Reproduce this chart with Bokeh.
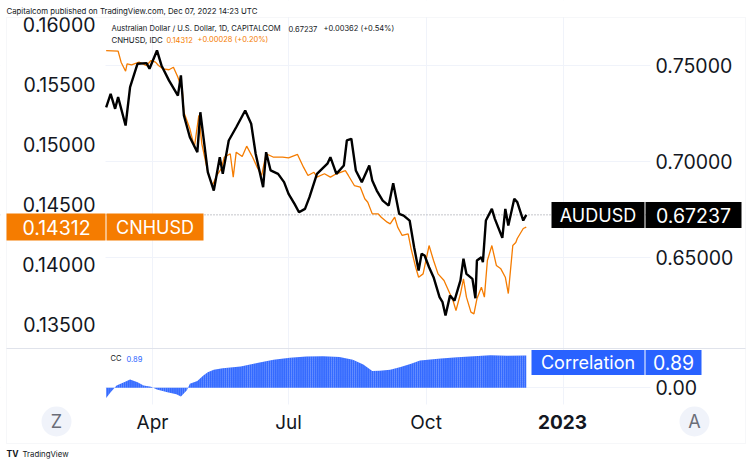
import pandas as pd
from bokeh.plotting import figure
from bokeh.models import (Range1d, LinearAxis, FixedTicker, PrintfTickFormatter,
                          Span, Label, BoxAnnotation)
from bokeh.embed import file_html
from bokeh.resources import INLINE

# ---------------- data ----------------
aud_dates = ["2022-03-01", "2022-03-04", "2022-03-07", "2022-03-09", "2022-03-14", "2022-03-17",
             "2022-03-22", "2022-03-28", "2022-03-30", "2022-04-04", "2022-04-07", "2022-04-12",
             "2022-04-18", "2022-04-20", "2022-04-22", "2022-04-26", "2022-05-01", "2022-05-03",
             "2022-05-08", "2022-05-12", "2022-05-16", "2022-05-18", "2022-05-22", "2022-05-27",
             "2022-06-02", "2022-06-06", "2022-06-09", "2022-06-14", "2022-06-16", "2022-06-19",
             "2022-06-24", "2022-06-28", "2022-07-01", "2022-07-05", "2022-07-08", "2022-07-12",
             "2022-07-15", "2022-07-20", "2022-07-27", "2022-07-29", "2022-08-02", "2022-08-07",
             "2022-08-09", "2022-08-12", "2022-08-15", "2022-08-19", "2022-08-24", "2022-08-26",
             "2022-08-29", "2022-09-02", "2022-09-06", "2022-09-09", "2022-09-13", "2022-09-16",
             "2022-09-20", "2022-09-23", "2022-09-26", "2022-09-28", "2022-09-30", "2022-10-03",
             "2022-10-06", "2022-10-10", "2022-10-12", "2022-10-14", "2022-10-17", "2022-10-20",
             "2022-10-24", "2022-10-26", "2022-10-28", "2022-11-01", "2022-11-03", "2022-11-04",
             "2022-11-07", "2022-11-08", "2022-11-10", "2022-11-14", "2022-11-16", "2022-11-21",
             "2022-11-23", "2022-11-25", "2022-11-29", "2022-12-01", "2022-12-05", "2022-12-07"]
aud_values = [0.7284, 0.7354, 0.7276, 0.7337, 0.7189, 0.7389,
              0.7511, 0.7514, 0.7485, 0.7580, 0.7502, 0.7424,
              0.7345, 0.7450, 0.7241, 0.7128, 0.7050, 0.7258,
              0.6946, 0.6850, 0.7024, 0.6937, 0.7111, 0.7180,
              0.7267, 0.7198, 0.7042, 0.6868, 0.7050, 0.6955,
              0.6937, 0.6894, 0.6833, 0.6781, 0.6737, 0.6755,
              0.6816, 0.6937, 0.6990, 0.7024, 0.6937, 0.6981,
              0.7111, 0.7120, 0.6955, 0.6894, 0.6981, 0.6903,
              0.6850, 0.6798, 0.6772, 0.6889, 0.6729, 0.6720,
              0.6694, 0.6555, 0.6434, 0.6521, 0.6512, 0.6451,
              0.6399, 0.6295, 0.6269, 0.6199, 0.6303, 0.6277,
              0.6382, 0.6495, 0.6416, 0.6390, 0.6289, 0.6486,
              0.6503, 0.6477, 0.6694, 0.6755, 0.6703, 0.6604,
              0.6755, 0.6668, 0.6807, 0.6790, 0.6694, 0.67237]

cnh_dates = ["2022-03-01", "2022-03-09", "2022-03-11", "2022-03-14", "2022-03-15", "2022-03-18",
             "2022-03-23", "2022-03-28", "2022-03-31", "2022-04-03", "2022-04-05", "2022-04-08",
             "2022-04-12", "2022-04-15", "2022-04-18", "2022-04-21", "2022-04-22", "2022-04-26",
             "2022-04-29", "2022-05-02", "2022-05-04", "2022-05-08", "2022-05-11", "2022-05-14",
             "2022-05-17", "2022-05-19", "2022-05-23", "2022-05-25", "2022-05-27", "2022-05-31",
             "2022-06-03", "2022-06-07", "2022-06-10", "2022-06-13", "2022-06-16", "2022-06-21",
             "2022-06-27", "2022-07-01", "2022-07-07", "2022-07-11", "2022-07-14", "2022-07-18",
             "2022-07-20", "2022-07-25", "2022-07-29", "2022-08-02", "2022-08-08", "2022-08-10",
             "2022-08-14", "2022-08-18", "2022-08-21", "2022-08-23", "2022-08-26", "2022-08-30",
             "2022-09-01", "2022-09-05", "2022-09-07", "2022-09-10", "2022-09-12", "2022-09-15",
             "2022-09-19", "2022-09-21", "2022-09-24", "2022-09-26", "2022-09-29", "2022-10-03",
             "2022-10-06", "2022-10-09", "2022-10-13", "2022-10-15", "2022-10-19", "2022-10-21",
             "2022-10-24", "2022-10-26", "2022-10-28", "2022-10-31", "2022-11-02", "2022-11-04",
             "2022-11-07", "2022-11-09", "2022-11-11", "2022-11-14", "2022-11-17", "2022-11-20",
             "2022-11-23", "2022-11-25", "2022-11-28", "2022-11-30", "2022-12-01", "2022-12-05",
             "2022-12-07"]
cnh_values = [0.15783, 0.15778, 0.15686, 0.15611, 0.15672, 0.15664,
              0.15686, 0.15658, 0.15700, 0.15686, 0.15658, 0.15631,
              0.15623, 0.15644, 0.15561, 0.15450, 0.15269, 0.15131,
              0.14978, 0.15242, 0.15006, 0.14769, 0.14658, 0.14742,
              0.14798, 0.14894, 0.14923, 0.14728, 0.14936, 0.14900,
              0.14986, 0.14894, 0.14811, 0.14742, 0.14923, 0.14894,
              0.14894, 0.14889, 0.14917, 0.14811, 0.14742, 0.14769,
              0.14728, 0.14756, 0.14728, 0.14756, 0.14783, 0.14742,
              0.14658, 0.14644, 0.14548, 0.14519, 0.14422, 0.14422,
              0.14394, 0.14353, 0.14339, 0.14394, 0.14311, 0.14242,
              0.14256, 0.14131, 0.13978, 0.13894, 0.13922, 0.14158,
              0.14033, 0.13922, 0.13867, 0.13811, 0.13700, 0.13617,
              0.13756, 0.13881, 0.13728, 0.13603, 0.13589, 0.13714,
              0.13811, 0.13728, 0.14033, 0.14158, 0.13992, 0.13964,
              0.13894, 0.13758, 0.14158, 0.14183, 0.14217, 0.14300,
              0.14312]

cc_dates = ["2022-03-01", "2022-03-04", "2022-03-08", "2022-03-13", "2022-03-17", "2022-03-22",
            "2022-03-26", "2022-03-31", "2022-04-04", "2022-04-11", "2022-04-17", "2022-04-20",
            "2022-04-24", "2022-04-26", "2022-05-01", "2022-05-05", "2022-05-08", "2022-05-12",
            "2022-05-18", "2022-05-30", "2022-06-10", "2022-06-21", "2022-07-02", "2022-07-13",
            "2022-07-24", "2022-08-04", "2022-08-13", "2022-08-20", "2022-08-26", "2022-08-31",
            "2022-09-07", "2022-09-14", "2022-09-21", "2022-09-27", "2022-10-11", "2022-10-22",
            "2022-11-02", "2022-11-13", "2022-11-24", "2022-12-07"]
cc_values = [-0.28, -0.12, 0.06, 0.15, 0.23, 0.15,
             0.06, 0.03, -0.05, -0.12, -0.18, -0.24,
             -0.07, 0.11, 0.19, 0.34, 0.43, 0.50,
             0.54, 0.59, 0.68, 0.77, 0.83, 0.86,
             0.87, 0.85, 0.77, 0.64, 0.46, 0.47,
             0.50, 0.57, 0.66, 0.75, 0.81, 0.84,
             0.87, 0.90, 0.88, 0.89]

left_ticks = [0.135, 0.140, 0.145, 0.150, 0.155, 0.160]
right_ticks = [0.65, 0.70, 0.75]
month_tick_dates = ["2022-04-01", "2022-07-01", "2022-10-01"]
month_tick_labels = ["Apr", "Jul", "Oct"]
year_tick_date = "2023-01-01"
year_tick_label = "2023"

aud_name, cnh_name = "AUDUSD", "CNHUSD"
aud_title = "Australian Dollar / U.S. Dollar, 1D, CAPITALCOM"
cnh_title = "CNHUSD, IDC"
aud_last, aud_change, aud_change_pct = 0.67237, 0.00362, 0.54
cnh_last, cnh_change, cnh_change_pct = 0.14312, 0.00028, 0.20
cc_name, cc_title, cc_last = "Correlation", "CC", 0.89
header = "Capitalcom published on TradingView.com, Dec 07, 2022 14:23 UTC"

# ---------------- layout (pixel geometry of the page) ----------------
W, H = 750, 465
PANE_L, PANE_R, PANE_T, PANE_B = 105, 650, 17, 404
ANCHOR_PX = 152          # pixel of 2022-04-01
PX_PER_DAY = 1.495
MS_DAY = 86400000.0
FONT = "Inter"
INK = "#131722"
ORANGE = "#f57c00"
BLUE = "#2962ff"
GRID = "#f0f3fa"
BORDER = "#e0e3eb"
SMALL = "7.8px"
NUM = "19.5px"


def ms(d):
    return pd.Timestamp(d).value / 1e6


anchor_ms = ms("2022-04-01")


def X(px):
    return anchor_ms + (px - ANCHOR_PX) / PX_PER_DAY * MS_DAY


def aud_at(py):
    return 0.70 + (161.3 - py) / 1920.0


def cnh_at(py):
    return 0.145 + (204.0 - py) / 12000.0


Y = aud_at

cc_zero_tick = round(aud_at(387.3), 6)
cc_zero_px = 161.3 - (cc_zero_tick - 0.70) * 1920.0
CC_PX = 36.3


def cc_at(py):
    return (cc_zero_px - py) / CC_PX


p = figure(width=W, height=H, x_axis_type="datetime", y_axis_location="right",
           x_range=Range1d(X(0), X(W)), y_range=Range1d(aud_at(H), aud_at(0)),
           output_backend="svg", toolbar_location=None, min_border=0)
p.extra_y_ranges = {"cnh": Range1d(cnh_at(H), cnh_at(0)),
                    "cc": Range1d(cc_at(H), cc_at(0))}
p.outline_line_color = None
p.background_fill_color = "white"
p.border_fill_color = "white"


def style_axis(ax, standoff, size=NUM):
    ax.axis_line_color = None
    ax.major_tick_line_color = None
    ax.minor_tick_line_color = None
    ax.major_tick_out = 0
    ax.major_tick_in = 0
    ax.major_label_text_font = FONT
    ax.major_label_text_font_size = size
    ax.major_label_text_color = INK
    ax.major_label_standoff = standoff


# right price scale (AUDUSD) + correlation zero
ra = p.yaxis[0]
rticker = FixedTicker(ticks=right_ticks + [cc_zero_tick])
ra.ticker = rticker
ra.formatter = PrintfTickFormatter(format="%.5f")
ra.major_label_overrides = {cc_zero_tick: "0.00"}
ra.fixed_location = X(PANE_R)
style_axis(ra, 5)
p.ygrid.ticker = rticker
p.ygrid.grid_line_color = GRID

# left price scale (CNHUSD)
la = LinearAxis(y_range_name="cnh", ticker=FixedTicker(ticks=left_ticks),
                formatter=PrintfTickFormatter(format="%.5f"), fixed_location=X(PANE_L))
style_axis(la, 10)
p.add_layout(la, "left")

# time scale
xa = p.xaxis[0]
xt = FixedTicker(ticks=[ms(d) for d in month_tick_dates + [year_tick_date]])
xa.ticker = xt
ov = {ms(d): t for d, t in zip(month_tick_dates, month_tick_labels)}
ov[ms(year_tick_date)] = ""
xa.major_label_overrides = ov
xa.fixed_location = Y(PANE_B)
style_axis(xa, 6, "19px")
p.xgrid.ticker = xt
p.xgrid.grid_line_color = GRID

# last-price line of AUDUSD (under the masks, so it stays inside the pane)
p.add_layout(Span(location=aud_last, dimension="width", line_color="#8a8d96",
                  line_dash="1 2", line_width=1, level="underlay"))


# ---------------- helpers ----------------
def box(l, r, t, b, color, radius=0, line=None, level="annotation"):
    p.add_layout(BoxAnnotation(left=X(l), right=X(r), top=Y(t), bottom=Y(b),
                               fill_color=color if color else "white",
                               fill_alpha=1 if color else 0,
                               line_color=line, border_radius=radius, level=level))


def lab(text, px, py, size, color=INK, align="left", bold=False):
    p.add_layout(Label(x=X(px), y=Y(py), text=text, text_font=FONT,
                       text_font_size=size, text_color=color, text_align=align,
                       text_baseline="middle",
                       text_font_style="bold" if bold else "normal"))


# keep grid lines inside the panes (white masks under the data)
box(0, W, 0, PANE_T, "white", level="underlay")
box(0, W, PANE_B, H, "white", level="underlay")
box(0, PANE_L, 0, H, "white", level="underlay")
box(PANE_R, W, 0, H, "white", level="underlay")

# ---------------- series ----------------
aud_x = pd.to_datetime(aud_dates)
cnh_x = pd.to_datetime(cnh_dates)
cc_x = pd.to_datetime(cc_dates)

p.varea(x=cc_x, y1=0, y2=cc_values, y_range_name="cc", fill_color=BLUE, fill_alpha=0.95,
        hatch_pattern="vertical_line", hatch_color="white", hatch_alpha=0.45,
        hatch_scale=2.1, hatch_weight=0.7)
p.line(cnh_x, cnh_values, y_range_name="cnh", line_color=ORANGE, line_width=1.3)
p.line(aud_x, aud_values, line_color="#000000", line_width=2.4)

# chart frame and pane separator
box(6, 745, 17, 443, None, line=BORDER)
box(6, 745, 347.5, 348.5, BORDER)

# header + legends
lab(header, 6, 10, SMALL)
lab(aud_title, 111, 28, "7.6px")
lab(f"{aud_last:.5f}", 288, 28, "7.5px")
lab(f"+{aud_change:.5f} (+{aud_change_pct:.2f}%)", 323, 28, "7.5px")
lab(cnh_title, 111, 39, "7.8px")
lab(f"{cnh_last:.5f}", 166, 39, "7.5px", ORANGE)
lab(f"+{cnh_change:.5f} (+{cnh_change_pct:.2f}%)", 197, 39, "7.5px", ORANGE)
lab(cc_title, 110, 358, "7.5px")
lab(f"{cc_last:.2f}", 126, 358, "7.5px", BLUE)

# price tags
box(6, 105, 213, 240, ORANGE)
box(106, 203, 213, 240, ORANGE)
lab(f"{cnh_last:.5f}", 56, 226.5, NUM, "white", "center")
lab(cnh_name, 154.5, 226.5, "18px", "white", "center")

box(551, 644, 201.5, 227.5, "#000000")
box(645, 741, 201.5, 227.5, "#000000")
lab(aud_name, 597.5, 214.5, "18px", "white", "center")
lab(f"{aud_last:.5f}", 693, 214.5, NUM, "white", "center")

box(531, 644, 349.5, 374.5, BLUE)
box(645, 701, 349.5, 374.5, BLUE)
lab(cc_name, 587.5, 362, "18px", "white", "center")
lab(f"{cc_last:.2f}", 673, 362, NUM, "white", "center")

# bold year label on the time scale
lab(year_tick_label, 562, 421, "19px", INK, "center", bold=True)

# Z / A buttons
box(41, 71, 406, 436, "#f0f3fa", radius=15)
lab("Z", 56, 421, "18px", "#6a6d78", "center")
box(679, 709, 406, 436, "#f0f3fa", radius=15)
lab("A", 694, 421, "18px", "#6a6d78", "center")

# footer logo
lab("TV", 6, 453, "8.5px", "#131722", bold=True)
lab("TradingView", 22, 453, SMALL, "#131722")

open("out.html", "w").write(file_html(p, INLINE, title="AUDUSD vs CNHUSD"))
